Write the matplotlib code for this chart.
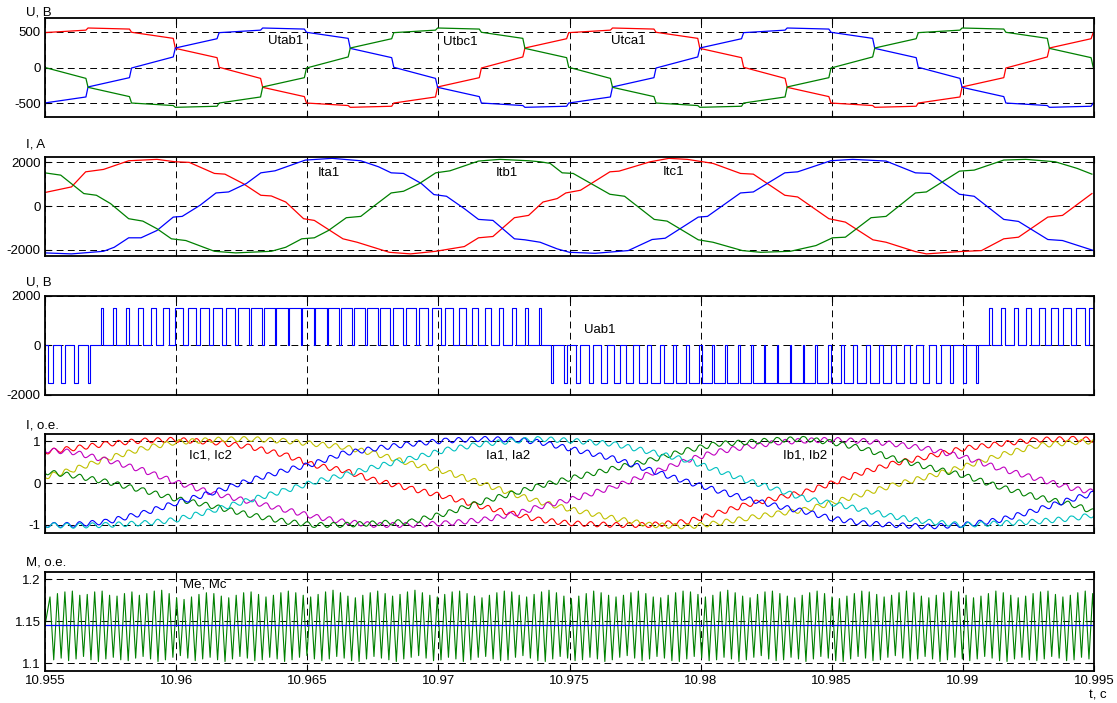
import numpy as np
import matplotlib.pyplot as plt

plt.rcParams['font.family'] = ['Liberation Sans', 'DejaVu Sans']
plt.rcParams['font.size'] = 9.5

t_ticks = [10.955, 10.96, 10.965, 10.97, 10.975, 10.98, 10.985, 10.99, 10.995]
t_labels = ['10.955', '10.96', '10.965', '10.97', '10.975', '10.98', '10.985', '10.99', '10.995']

# ---- Utab1 / Utbc1 / Utca1 : stepped voltages, value at start and end of each step
step_t = [10.95489, 10.95656, 10.95822, 10.95989, 10.96156, 10.96322, 10.96489,
          10.96656, 10.96822, 10.96989, 10.97156, 10.97322, 10.97489, 10.97656,
          10.97822, 10.97989, 10.98156, 10.98322, 10.98489, 10.98656, 10.98822,
          10.98989, 10.99156, 10.99322, 10.99489, 10.99656]
ua_start = [490, 555, 495, 270, 5, -275, -495, -555, -495, -270, -5, 275, 490,
            555, 495, 270, 5, -275, -495, -555, -495, -270, -5, 275, 490]
ua_end = [525, 540, 410, 140, -150, -405, -530, -540, -410, -140, 150, 405, 525,
          540, 410, 140, -150, -405, -530, -540, -410, -140, 150, 405, 525]
ub_start = [-495, -270, -5, 275, 490, 555, 495, 270, 5, -275, -495, -555, -495,
            -270, -5, 275, 490, 555, 495, 270, 5, -275, -495, -555, -495]
ub_end = [-410, -140, 150, 405, 525, 540, 410, 140, -150, -405, -530, -540, -410,
          -140, 150, 405, 525, 540, 410, 140, -150, -405, -530, -540, -410]
uc_start = [5, -275, -495, -555, -495, -270, -5, 275, 490, 555, 495, 270, 5,
            -275, -495, -555, -495, -270, -5, 275, 490, 555, 495, 270, 5]
uc_end = [-150, -405, -530, -540, -410, -140, 150, 405, 525, 540, 410, 140, -150,
          -405, -530, -540, -410, -140, 150, 405, 525, 540, 410, 140, -150]

# ---- Ita1 / Itb1 / Itc1 : currents, A
ia_t = [10.95499, 10.95601, 10.95655, 10.95723, 10.95819, 10.95927, 10.95996, 10.9605,
        10.96146, 10.96186, 10.96255, 10.96323, 10.96363, 10.96418, 10.96486, 10.96527,
        10.96636, 10.9669, 10.96813, 10.96894, 10.9699, 10.97099, 10.97153, 10.97208,
        10.9729, 10.97344, 10.97399, 10.97453, 10.97486, 10.97542, 10.97654, 10.97689,
        10.97808, 10.97879, 10.97949, 10.98047, 10.98152, 10.98201, 10.98321, 10.9837,
        10.98489, 10.98552, 10.98657, 10.98707, 10.98819, 10.98861, 10.98987, 10.99071,
        10.99156, 10.99212, 10.99324, 10.9938, 10.99492]
ia = [617, 876, 1567, 1677, 2074, 2138, 2028, 2000,
      1493, 1461, 1032, 493, 461, 184, -581, -659,
      -1502, -1659, -2120, -2193, -2074, -1857, -1456, -1396,
      -535, -429, 184, 341, 599, 723, 1567, 1599,
      2028, 2184, 2138, 1954, 1493, 1461, 493, 415,
      -581, -737, -1548, -1659, -2087, -2193, -2087, -2041,
      -1502, -1428, -507, -429, 571]
ib_t = [10.95499, 10.95601, 10.95723, 10.95764, 10.95819, 10.95866, 10.95927, 10.95989,
        10.96023, 10.96091, 10.96152, 10.962, 10.96268, 10.96323, 10.96377, 10.96493,
        10.96595, 10.96704, 10.96772, 10.9682, 10.96867, 10.96935, 10.96983, 10.97031,
        10.97099, 10.97153, 10.97208, 10.9729, 10.9733, 10.97388, 10.97453, 10.975,
        10.97598, 10.97724, 10.97815, 10.97865, 10.97991, 10.98026, 10.98152, 10.98201,
        10.98321, 10.9837, 10.98496, 10.9858, 10.98707, 10.98819, 10.98875, 10.98987,
        10.99043, 10.99156, 10.99212, 10.99324, 10.9938, 10.99499]
ib = [-2147, -2193, -2074, -1889, -1456, -1456, -1120, -507,
      -475, 32, 599, 645, 1032, 1521, 1613, 2106,
      2184, 2074, 1797, 1521, 1493, 1032, 525, 447,
      -120, -613, -659, -1502, -1548, -1659, -1963, -2120,
      -2166, -2041, -1534, -1475, -507, -475, 599, 645,
      1521, 1567, 2074, 2138, 2060, 1521, 1493, 539,
      447, -613, -705, -1534, -1581, -2041]
ic_t = [10.95499, 10.9556, 10.95648, 10.95696, 10.9575, 10.95819, 10.95873, 10.95927,
        10.95982, 10.96037, 10.96146, 10.96227, 10.96363, 10.96418, 10.96479, 10.96527,
        10.96581, 10.96649, 10.96704, 10.96758, 10.9682, 10.96867, 10.96928, 10.9699,
        10.97044, 10.97153, 10.97235, 10.97344, 10.97388, 10.97426, 10.97472, 10.97514,
        10.97654, 10.9771, 10.97823, 10.97872, 10.97991, 10.98047, 10.98159, 10.98229,
        10.98342, 10.9844, 10.98503, 10.98552, 10.9865, 10.98707, 10.98819, 10.98861,
        10.98987, 10.99043, 10.99156, 10.9924, 10.99352, 10.99436, 10.99492]
ic = [1521, 1415, 571, 493, 110, -581, -691, -1041,
      -1502, -1581, -2074, -2147, -2074, -1889, -1502, -1456,
      -1120, -535, -475, 32, 599, 677, 1032, 1521,
      1613, 2060, 2138, 2074, 2028, 1954, 1521, 1493,
      539, 447, -613, -691, -1548, -1659, -2041, -2120,
      -2074, -1811, -1456, -1428, -535, -475, 599, 645,
      1599, 1645, 2106, 2138, 2028, 1723, 1461]

# ---- Uab1 : PWM pulses, signed duty of each carrier period
pwm_t0 = 10.9552
pwm_T = 0.000491
pwm_level = 1520
pwm_duty = [-0.42, -0.32, -0.24, -0.15,
            0.15, 0.22, 0.29, 0.36, 0.43, 0.5, 0.56, 0.62, 0.67, 0.72, 0.76, 0.8,
            0.83, 0.86, 0.88, 0.9, 0.91, 0.92, 0.91, 0.9, 0.88, 0.86, 0.83, 0.8,
            0.76, 0.72, 0.67, 0.62, 0.56, 0.5, 0.43, 0.36, 0.29, 0.22, 0.15,
            -0.15, -0.22, -0.29, -0.36, -0.43, -0.5, -0.56, -0.62, -0.67, -0.72,
            -0.76, -0.8, -0.83, -0.86, -0.88, -0.9, -0.91, -0.91, -0.9, -0.88,
            -0.86, -0.83, -0.8, -0.76, -0.72, -0.67, -0.62, -0.56, -0.5, -0.43,
            -0.36, -0.29, -0.22, -0.15,
            0.2, 0.29, 0.34, 0.4, 0.5, 0.56, 0.62, 0.66, 0.7]

# ---- Ia1..Ic2 : per-unit currents
pu_t = [10.95498, 10.95601, 10.95737, 10.95873, 10.95996, 10.96146, 10.96282, 10.96418,
        10.96527, 10.96636, 10.96758, 10.96895, 10.97031, 10.97167, 10.97303, 10.97388,
        10.975, 10.97668, 10.97808, 10.97949, 10.98061, 10.98173, 10.983, 10.98398,
        10.98496, 10.98622, 10.98735, 10.98861, 10.99001, 10.99142, 10.99282, 10.99422,
        10.99499]
pu_red = [0.75, 0.83, 0.94, 1.02, 1.04, 0.98, 0.87, 0.67, 0.43, 0.31, 0.07, -0.13,
          -0.33, -0.56, -0.76, -0.88, -0.96, -1.0, -1.0, -0.92, -0.72, -0.52, -0.34,
          -0.21, -0.01, 0.27, 0.47, 0.63, 0.83, 0.94, 1.04, 1.06, 1.04]
pu_yellow = [0.15, 0.31, 0.59, 0.83, 0.98, 1.04, 1.06, 1.01, 0.94, 0.87, 0.71, 0.47,
             0.27, -0.01, -0.29, -0.45, -0.62, -0.84, -1.0, -1.04, -0.96, -0.84, -0.72,
             -0.64, -0.48, -0.25, -0.05, 0.15, 0.39, 0.67, 0.9, 0.98, 1.0]
pu_magenta = [0.79, 0.75, 0.55, 0.31, 0.03, -0.25, -0.44, -0.64, -0.8, -0.92, -1.0, -1.0,
              -0.96, -0.88, -0.72, -0.56, -0.4, -0.09, 0.23, 0.55, 0.75, 0.87, 0.98,
              1.02, 1.04, 1.01, 0.94, 0.83, 0.63, 0.35, 0.11, -0.13, -0.21]
pu_green = [0.27, 0.19, 0.03, -0.17, -0.37, -0.56, -0.76, -0.92, -1.0, -1.0, -0.96, -0.92,
            -0.72, -0.44, -0.21, -0.06, 0.11, 0.35, 0.55, 0.79, 0.94, 0.98, 1.04, 1.06,
            0.98, 0.83, 0.59, 0.39, 0.19, -0.09, -0.33, -0.52, -0.68]
pu_blue = [-1.0, -1.0, -0.92, -0.72, -0.48, -0.21, 0.07, 0.31, 0.47, 0.71, 0.83, 0.94,
           1.02, 1.06, 1.04, 0.98, 0.83, 0.59, 0.31, 0.03, -0.17, -0.37, -0.56, -0.68,
           -0.84, -0.96, -1.0, -1.04, -1.0, -0.88, -0.64, -0.37, -0.25]
pu_cyan = [-1.0, -1.02, -1.0, -0.96, -0.88, -0.64, -0.4, -0.17, 0.03, 0.19, 0.39, 0.59,
           0.8, 0.94, 1.02, 1.06, 1.02, 0.94, 0.75, 0.55, 0.31, 0.07, -0.17, -0.37,
           -0.48, -0.64, -0.8, -0.92, -1.0, -0.96, -0.92, -0.84, -0.76]

# ---- Me / Mc : torque, peak and trough of every ripple period
me_t0 = 10.95519
me_T = 0.000284
me_peak = [1.179, 1.183, 1.185, 1.186, 1.181, 1.182, 1.185, 1.186, 1.181, 1.180, 1.183, 1.185,
           1.181, 1.183, 1.186, 1.187, 1.183, 1.178, 1.176, 1.179, 1.182, 1.184, 1.183, 1.180,
           1.178, 1.181, 1.184, 1.185, 1.182, 1.179, 1.181, 1.184, 1.186, 1.184, 1.181, 1.179,
           1.182, 1.185, 1.187, 1.184, 1.180, 1.178, 1.181, 1.184, 1.186, 1.183, 1.180, 1.182,
           1.185, 1.187, 1.184, 1.181, 1.179, 1.182, 1.185, 1.186, 1.183, 1.180, 1.178, 1.181,
           1.184, 1.186, 1.185, 1.181, 1.179, 1.182, 1.185, 1.187, 1.184, 1.180, 1.177, 1.180,
           1.183, 1.186, 1.184, 1.181, 1.179, 1.181, 1.184, 1.186, 1.183, 1.179, 1.178, 1.181,
           1.184, 1.186, 1.185, 1.182, 1.179, 1.181, 1.185, 1.187, 1.184, 1.180, 1.178, 1.182,
           1.185, 1.186, 1.183, 1.180, 1.178, 1.181, 1.184, 1.186, 1.183, 1.179, 1.177, 1.180,
           1.183, 1.186, 1.185, 1.182, 1.179, 1.181, 1.184, 1.186, 1.184, 1.180, 1.178, 1.181,
           1.184, 1.186, 1.185, 1.181, 1.178, 1.180, 1.183, 1.186, 1.184, 1.181, 1.178, 1.180,
           1.183, 1.185, 1.186, 1.182, 1.179, 1.181, 1.184, 1.186, 1.183]
me_trough = [1.104, 1.106, 1.103, 1.105, 1.108, 1.104, 1.102, 1.105, 1.107, 1.104, 1.103, 1.106,
             1.108, 1.105, 1.102, 1.104, 1.107, 1.109, 1.106, 1.103, 1.105, 1.107, 1.104, 1.102,
             1.105, 1.108, 1.106, 1.103, 1.104, 1.107, 1.105, 1.102, 1.104, 1.107, 1.109, 1.105,
             1.103, 1.105, 1.108, 1.106, 1.103, 1.102, 1.105, 1.108, 1.106, 1.104, 1.102, 1.105,
             1.107, 1.109, 1.106, 1.103, 1.104, 1.107, 1.105, 1.102, 1.104, 1.107, 1.108, 1.105,
             1.103, 1.104, 1.107, 1.109, 1.106, 1.103, 1.102, 1.105, 1.108, 1.106, 1.103, 1.104,
             1.107, 1.105, 1.102, 1.104, 1.107, 1.109, 1.106, 1.103, 1.105, 1.108, 1.106, 1.103,
             1.102, 1.105, 1.108, 1.106, 1.103, 1.104, 1.107, 1.105, 1.102, 1.104, 1.107, 1.109,
             1.105, 1.103, 1.104, 1.107, 1.105, 1.102, 1.105, 1.108, 1.106, 1.103, 1.102, 1.105,
             1.108, 1.106, 1.103, 1.104, 1.107, 1.109, 1.106, 1.103, 1.105, 1.108, 1.105, 1.102,
             1.104, 1.107, 1.105, 1.103, 1.105, 1.108, 1.106, 1.103, 1.102, 1.105, 1.107, 1.104,
             1.103, 1.105, 1.108, 1.106, 1.103, 1.104, 1.107, 1.105, 1.104]
mc_level = 1.145


def stepped(edges, starts, ends, rise=0.00008):
    tt, vv = [], []
    for k in range(len(starts)):
        tt += [edges[k] + rise, edges[k + 1]]
        vv += [starts[k], ends[k]]
    return tt, vv


def pwm_wave(t0, period, duty, level):
    tt, vv = [t0 - period / 2], [0]
    for i, d in enumerate(duty):
        c = t0 + i * period
        w = abs(d) * period / 2
        u = level if d > 0 else -level
        tt += [c - w, c - w, c + w, c + w]
        vv += [0, u, u, 0]
    return tt, vv


def style(ax, ylim, yticks, ylabels, title, gap, bottom=False):
    ax.set_xlim(10.955, 10.995)
    ax.set_ylim(*ylim)
    ax.set_xticks(t_ticks)
    ax.set_xticklabels(t_labels if bottom else [])
    ax.set_yticks(yticks)
    ax.set_yticklabels(ylabels)
    ax.grid(True, color='k', linestyle=(0, (7, 4.5)), linewidth=0.7)
    ax.tick_params(direction='in', length=4, width=0.8, top=True, right=True, pad=3)
    for s in ax.spines.values():
        s.set_linewidth(1.3)
    ax.text(-19 / 1049, 1 + gap / 99, title, transform=ax.transAxes,
            ha='left', va='baseline')


fig = plt.figure(figsize=(11.17, 7.03), dpi=100)
left, width, height = 0.0403, 0.9391, 0.1408
bottoms = [0.8331, 0.6363, 0.4385, 0.2414, 0.0459]
axs = [fig.add_axes([left, b, width, height]) for b in bottoms]

# panel 1
ax = axs[0]
for st, en, col in [(ua_start, ua_end, 'red'), (ub_start, ub_end, 'blue'),
                    (uc_start, uc_end, 'green')]:
    tt, vv = stepped(step_t, st, en)
    ax.plot(tt, vv, color=col, lw=0.9)
style(ax, (-695, 690), [-500, 0, 500], ['-500', '0', '500'], 'U, B', 3)
ax.text(10.9635, 374, 'Utab1', va='center')
ax.text(10.97018, 358, 'Utbc1', va='center')
ax.text(10.97658, 367, 'Utca1', va='center')

# panel 2
ax = axs[1]
ax.plot(ia_t, ia, color='red', lw=0.9)
ax.plot(ib_t, ib, color='blue', lw=0.9)
ax.plot(ic_t, ic, color='green', lw=0.9)
style(ax, (-2275, 2260), [-2000, 0, 2000], ['-2000', '0', '2000'], 'I, A', 9.5)
ax.text(10.96541, 1530, 'Ita1', va='center')
ax.text(10.9722, 1530, 'Itb1', va='center')
ax.text(10.97857, 1567, 'Itc1', va='center')

# panel 3
ax = axs[2]
tt, vv = pwm_wave(pwm_t0, pwm_T, pwm_duty, pwm_level)
ax.plot(tt, vv, color='blue', lw=0.8)
style(ax, (-2000, 2000), [-2000, 0, 2000], ['-2000', '0', '2000'], 'U, B', 10)
ax.text(10.97555, 604, 'Uab1', va='center')

# panel 4 (PWM ripple drawn as a sketch wiggle on the read curves)
ax = axs[3]
for vals, col in [(pu_red, 'red'), (pu_yellow, '#c0c000'), (pu_magenta, '#c000c0'),
                  (pu_green, 'green'), (pu_blue, 'blue'), (pu_cyan, '#00c0c0')]:
    ln, = ax.plot(pu_t, vals, color=col, lw=0.8)
    ln.set_sketch_params(scale=2.5, length=12.8, randomness=1.0)
style(ax, (-1.2, 1.17), [-1, 0, 1], ['-1', '0', '1'], 'I, o.e.', 6)
ax.text(10.96049, 0.667, 'Ic1, Ic2', va='center')
ax.text(10.97182, 0.667, 'Ia1, Ia2', va='center')
ax.text(10.98314, 0.667, 'Ib1, Ib2', va='center')

# panel 5
ax = axs[4]
me_tt, me_vv = [10.955], [1.145]
for i, (hi, lo) in enumerate(zip(me_peak, me_trough)):
    me_tt += [me_t0 + i * me_T, me_t0 + (i + 0.5) * me_T]
    me_vv += [hi, lo]
ax.plot(me_tt, me_vv, color='green', lw=0.8)
ax.plot([10.955, 10.995], [mc_level, mc_level], color='blue', lw=0.9)
style(ax, (1.091, 1.209), [1.1, 1.15, 1.2], ['1.1', '1.15', '1.2'], 'M, o.e.', 6,
      bottom=True)
ax.text(10.96025, 1.194, 'Me, Mc', va='center')
fig.text(1098 / 1117, 1 - 695 / 703, 't, c', ha='center', va='center')

fig.savefig('out.png', dpi=100)
